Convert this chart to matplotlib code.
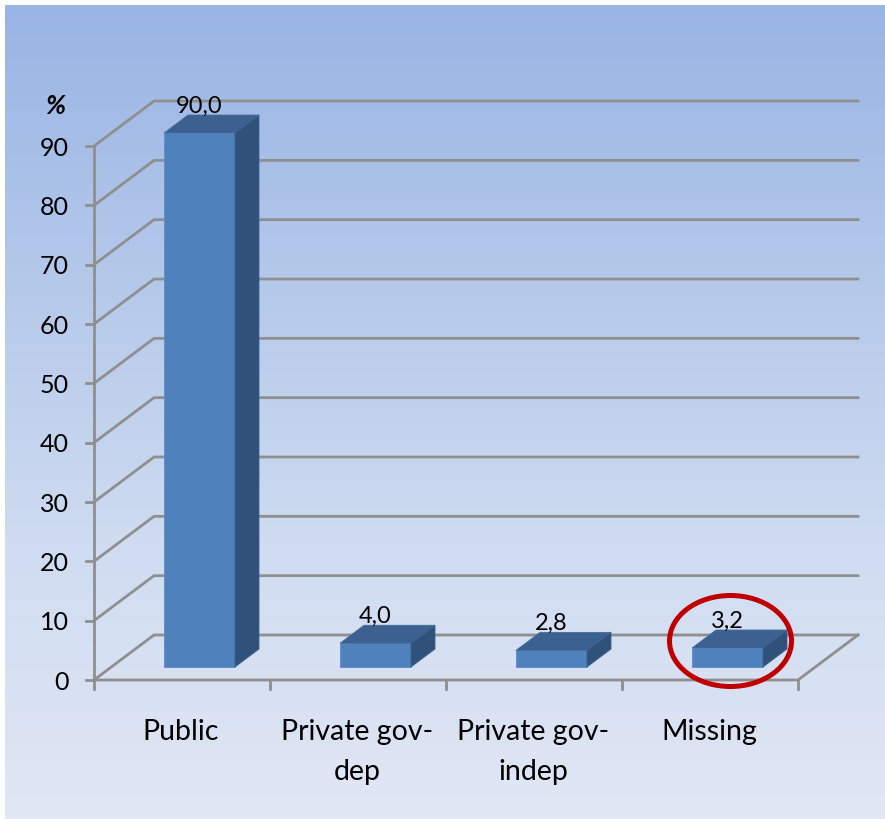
import numpy as np
import matplotlib
matplotlib.use("Agg")
import matplotlib.pyplot as plt
from matplotlib.patches import Polygon, Ellipse
from matplotlib.colors import LinearSegmentedColormap

categories = ["Public", "Private gov-\ndep", "Private gov-\nindep", "Missing"]
values = [90.0, 4.0, 2.8, 3.2]
value_labels = ["90,0", "4,0", "2,8", "3,2"]
y_ticks = [0, 10, 20, 30, 40, 50, 60, 70, 80, 90]

W, H = 885, 819
fig = plt.figure(figsize=(W / 100, H / 100), dpi=100)
ax = fig.add_axes([0, 0, 1, 1])
ax.set_xlim(0, W)
ax.set_ylim(H, 0)
ax.axis("off")
plt.rcParams["font.family"] = ["Lato", "DejaVu Sans"]

cmap = LinearSegmentedColormap.from_list("bg", ["#99b5e4", "#b4c8ea", "#cfdcf1", "#e1e7f5"])
ax.imshow(np.linspace(0, 1, 256)[:, None], cmap=cmap, extent=(5, 885, 819, 5), aspect="auto", zorder=0)
ax.set_xlim(0, W)
ax.set_ylim(H, 0)

X0, Y0 = 94, 680
UNIT = 5.933
STEP = 176
DX, DY = 60, -45
BAR_OFF, BAR_W = 70, 71
BAR_BASE = 667
BDX, BDY = 24, -18
GRID = "#8f8f8f"
LW = 2.0


def yv(v):
    return Y0 - v * UNIT


n = len(categories)
x_end = X0 + n * STEP
for t in y_ticks:
    ax.plot([X0, X0 + DX, x_end + DX], [yv(t), yv(t) + DY, yv(t) + DY], color=GRID, lw=LW, zorder=1,
            solid_joinstyle="miter")
    ax.plot([X0 - 8, X0], [yv(t), yv(t)], color=GRID, lw=LW, zorder=1)
    ax.text(X0 - 25, yv(t) + 2, str(t), ha="right", va="center", fontsize=18, color="black", zorder=5)
ax.plot([X0, X0], [yv(90), Y0 + 9], color=GRID, lw=LW, zorder=1)
ax.plot([X0, x_end, x_end + DX], [Y0, Y0, Y0 + DY], color=GRID, lw=LW, zorder=1)
for i in range(1, n + 1):
    ax.plot([X0 + i * STEP] * 2, [Y0, Y0 + 9], color=GRID, lw=LW, zorder=1)

for i, (v, lab, cat) in enumerate(zip(values, value_labels, categories)):
    l = X0 + BAR_OFF + i * STEP
    r = l + BAR_W
    t = BAR_BASE - v * UNIT
    ax.add_patch(Polygon([(l, BAR_BASE), (r, BAR_BASE), (r, t), (l, t)], fc="#4f81bd", ec="#5d8cc4", lw=0.6, zorder=3))
    ax.add_patch(Polygon([(l, t), (r, t), (r + BDX, t + BDY), (l + BDX, t + BDY)], fc="#3c6190", ec="#466d9d", lw=0.6, zorder=3))
    ax.add_patch(Polygon([(r, BAR_BASE), (r + BDX, BAR_BASE + BDY), (r + BDX, t + BDY), (r, t)], fc="#30527a", ec="#3c6190", lw=0.6, zorder=3))
    ax.text(l + 35, t + BDY - 9, lab, ha="center", va="center", fontsize=17, color="black", zorder=6)
    ax.text(X0 + (i + 0.5) * STEP - 1, 732 + (20 if "\n" in cat else 0), cat, ha="center", va="center", fontsize=20.5,
            color="black", linespacing=1.62, zorder=5)

ax.text(55, 106, "%", ha="center", va="center", fontsize=19, fontweight="bold", fontstyle="italic", zorder=5)
ax.add_patch(Ellipse((730.5, 641), 122, 91, fc="none", ec="#c00000", lw=3.6, zorder=7))

fig.savefig("out.png", dpi=100)
